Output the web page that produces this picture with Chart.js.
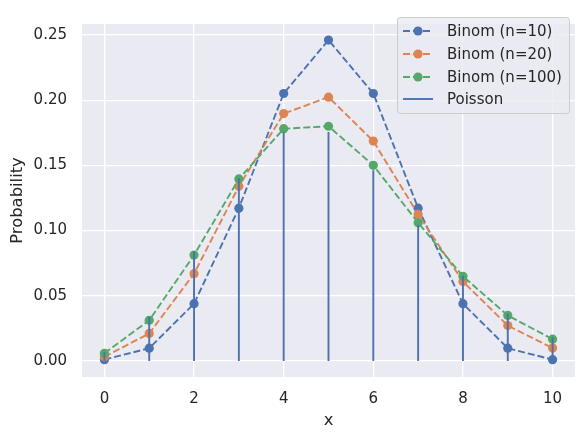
<!DOCTYPE html>
<html lang="en">
<head>
    <meta charset="UTF-8">
    <title>Binomial vs Poisson</title>
    <script src="https://cdn.jsdelivr.net/npm/chart.js"></script>
    <style>
        html, body { margin: 0; padding: 0; background: #fff; }
        #wrap { width: 586px; height: 441px; position: relative; }
    </style>
</head>
<body>
    <div id="wrap"><canvas id="chart" width="586" height="441"></canvas></div>

    <script>
        // values
        let xs = [0, 1, 2, 3, 4, 5, 6, 7, 8, 9, 10];
        let binom10 = [0.001, 0.0098, 0.0439, 0.1172, 0.2051, 0.2461, 0.2051, 0.1172, 0.0439, 0.0098, 0.001];
        let binom20 = [0.0032, 0.0211, 0.0669, 0.1339, 0.1897, 0.2023, 0.1686, 0.1124, 0.0609, 0.0271, 0.0099];
        let binom100 = [0.0059, 0.0312, 0.0812, 0.1396, 0.1781, 0.18, 0.15, 0.106, 0.0649, 0.0349, 0.0167];
        let poisson = [0.0067, 0.0337, 0.0842, 0.1404, 0.1755, 0.1755, 0.1462, 0.1044, 0.0653, 0.0363, 0.0181];
        let xTicks = [0, 2, 4, 6, 8, 10];
        let yTicks = [0, 0.05, 0.1, 0.15, 0.2, 0.25];
        let labels = ['Binom (n=10)', 'Binom (n=20)', 'Binom (n=100)', 'Poisson'];
        let colors = ['#4C72B0', '#DD8452', '#55A868', '#4C72B0'];

        function pts(arr) {
            return xs.map((x, i) => ({ x: x, y: arr[i] }));
        }

        // stems: one segment per x, broken by nulls
        function stems(arr) {
            let out = [];
            xs.forEach((x, i) => {
                out.push({ x: x, y: 0 }, { x: x, y: arr[i] }, { x: x, y: null });
            });
            return out;
        }

        function lineSet(i, arr) {
            return {
                label: labels[i],
                data: pts(arr),
                borderColor: colors[i],
                backgroundColor: colors[i],
                borderWidth: 1.9,
                borderDash: [7, 3],
                pointRadius: 4.6,
                pointHoverRadius: 4.6,
                pointBorderWidth: 0,
                showLine: true,
                order: 3 - i
            };
        }

        let font = 'DejaVu Sans';
        Chart.defaults.font.family = font;
        Chart.defaults.color = '#262626';

        let bgPlugin = {
            id: 'bg',
            beforeDraw(chart) {
                let a = chart.chartArea, c = chart.ctx;
                c.save();
                c.fillStyle = '#EAEAF2';
                c.fillRect(a.left, a.top, a.right - a.left, a.bottom - a.top);
                c.restore();
            }
        };

        let legendPlugin = {
            id: 'mplLegend',
            afterDraw(chart) {
                let c = chart.ctx;
                let x0 = 397, y0 = 17, w = 172, h = 96;
                c.save();
                c.beginPath();
                c.roundRect(x0 + 0.5, y0 + 0.5, w, h, 3);
                c.fillStyle = 'rgba(234,234,242,0.8)';
                c.fill();
                c.strokeStyle = '#CCCCCC';
                c.lineWidth = 1;
                c.stroke();
                c.font = '15px "' + font + '"';
                c.textBaseline = 'middle';
                let rows = [31, 54, 77, 99];
                labels.forEach((lab, i) => {
                    let y = rows[i];
                    c.strokeStyle = colors[i];
                    c.lineWidth = 1.9;
                    c.setLineDash(i < 3 ? [7, 3] : []);
                    c.beginPath();
                    c.moveTo(403, y);
                    c.lineTo(433, y);
                    c.stroke();
                    c.setLineDash([]);
                    if (i < 3) {
                        c.fillStyle = colors[i];
                        c.beginPath();
                        c.arc(418, y, 4.6, 0, Math.PI * 2);
                        c.fill();
                    }
                    c.fillStyle = '#262626';
                    c.fillText(lab, 447, y + 1);
                });
                c.restore();
            }
        };

        let ctx = document.getElementById('chart').getContext('2d');
        let chart = new Chart(ctx, {
            type: 'scatter',
            data: {
                datasets: [
                    lineSet(0, binom10),
                    lineSet(1, binom20),
                    lineSet(2, binom100),
                    {
                        label: labels[3],
                        data: stems(poisson),
                        borderColor: colors[3],
                        borderWidth: 1.9,
                        pointRadius: 0,
                        showLine: true,
                        spanGaps: false,
                        order: 0
                    }
                ]
            },
            options: {
                responsive: false,
                animation: false,
                devicePixelRatio: 1,
                layout: { padding: { top: 11, right: 11, left: 0, bottom: 0 } },
                plugins: {
                    legend: { display: false },
                    tooltip: { enabled: false }
                },
                scales: {
                    x: {
                        type: 'linear',
                        min: -0.5,
                        max: 10.5,
                        afterBuildTicks: s => { s.ticks = xTicks.map(v => ({ value: v })); },
                        afterFit: s => { s.height = 64; },
                        grid: { color: '#FFFFFF', lineWidth: 1.3, drawTicks: false },
                        border: { display: false },
                        ticks: { font: { size: 15 }, padding: 13, color: '#262626' },
                        title: { display: true, text: 'x', font: { size: 16.4 }, color: '#262626', padding: { top: 4, bottom: 10 } }
                    },
                    y: {
                        type: 'linear',
                        min: -0.0123,
                        max: 0.2584,
                        afterBuildTicks: s => { s.ticks = yTicks.map(v => ({ value: v })); },
                        afterFit: s => { s.width = 82; },
                        grid: { color: '#FFFFFF', lineWidth: 1.3, drawTicks: false },
                        border: { display: false },
                        ticks: { font: { size: 15 }, padding: 15, color: '#262626', callback: v => v.toFixed(2) },
                        title: { display: true, text: 'Probability', font: { size: 16.4 }, color: '#262626', padding: { top: 7.5, bottom: 2 } }
                    }
                }
            },
            plugins: [bgPlugin, legendPlugin]
        });
    </script>
</body>
</html>
